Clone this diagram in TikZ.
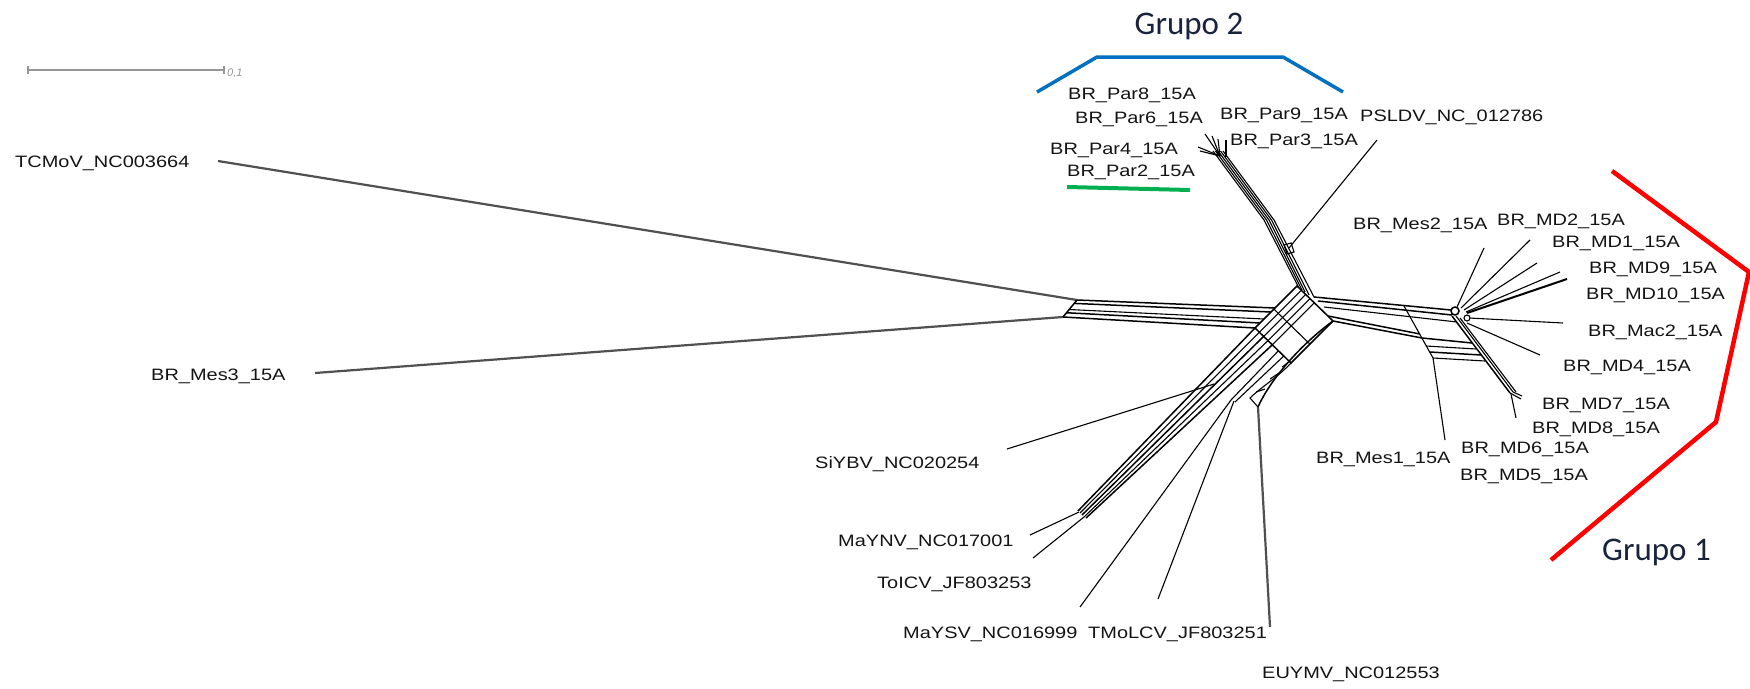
\documentclass[tikz,border=0pt]{standalone}
\usepackage{fontspec}
\setmainfont{Liberation Sans}
\newfontfamily\grupofont{Carlito}
\usepackage{graphicx}
\usetikzlibrary{calc}
\definecolor{grupoblue}{RGB}{0,112,192}
\definecolor{grupored}{RGB}{255,0,0}
\definecolor{grupogreen}{RGB}{0,176,80}
\definecolor{grupotext}{RGB}{25,35,60}
\definecolor{leafgray}{RGB}{80,80,80}
\definecolor{scalegray}{RGB}{150,150,150}
\newcommand{\taxon}[1]{\fontsize{16.5}{18}\selectfont\scalebox{1.21}[1]{#1}}
\begin{document}
\begin{tikzpicture}[x=1pt,y=-1pt,
  net/.style={line width=1.5pt, black},
  thinnet/.style={line width=1.1pt, black},
  longleaf/.style={line width=2.2pt, leafgray},
  lab/.style={anchor=base west, inner sep=0pt, text=black!92},
  grupo/.style={anchor=base, inner sep=0pt, text=grupotext, font=\grupofont\fontsize{33}{36}\selectfont},
]
\useasboundingbox (0,0) rectangle (1750,688);

% scale bar
\coordinate (sb1) at (28,70);
\coordinate (sb2) at (224,70);
\draw[scalegray, line width=1.2pt] (sb1) -- (sb2);
\draw[scalegray, line width=1.2pt] ([yshift=4pt]sb1) -- ([yshift=-4pt]sb1);
\draw[scalegray, line width=1.2pt] ([yshift=4pt]sb2) -- ([yshift=-4pt]sb2);
\node[anchor=west, inner sep=0pt, text=scalegray, font=\itshape\fontsize{11}{12}\selectfont] (sblab) at (227,73) {0,1};

% labels
\node[lab] (tcmov) at (15,167) {\taxon{TCMoV\_NC003664}};
\node[lab] (mes3) at (151,380) {\taxon{BR\_Mes3\_15A}};
\node[lab] (par8) at (1068,99) {\taxon{BR\_Par8\_15A}};
\node[lab] (par6) at (1075,123) {\taxon{BR\_Par6\_15A}};
\node[lab] (par9) at (1220,119) {\taxon{BR\_Par9\_15A}};
\node[lab] (psldv) at (1360,121) {\taxon{PSLDV\_NC\_012786}};
\node[lab] (par3) at (1230,145) {\taxon{BR\_Par3\_15A}};
\node[lab] (par4) at (1050,154) {\taxon{BR\_Par4\_15A}};
\node[lab] (par2) at (1067,176) {\taxon{BR\_Par2\_15A}};
\node[lab] (mes2) at (1353,229) {\taxon{BR\_Mes2\_15A}};
\node[lab] (md2) at (1497,225) {\taxon{BR\_MD2\_15A}};
\node[lab] (md1) at (1552,247) {\taxon{BR\_MD1\_15A}};
\node[lab] (md9) at (1589,273) {\taxon{BR\_MD9\_15A}};
\node[lab] (md10) at (1586,299) {\taxon{BR\_MD10\_15A}};
\node[lab] (mac2) at (1588,336) {\taxon{BR\_Mac2\_15A}};
\node[lab] (md4) at (1563,371) {\taxon{BR\_MD4\_15A}};
\node[lab] (md7) at (1542,409) {\taxon{BR\_MD7\_15A}};
\node[lab] (md8) at (1532,433) {\taxon{BR\_MD8\_15A}};
\node[lab] (md6) at (1461,453) {\taxon{BR\_MD6\_15A}};
\node[lab] (md5) at (1460,480) {\taxon{BR\_MD5\_15A}};
\node[lab] (mes1) at (1316,463) {\taxon{BR\_Mes1\_15A}};
\node[lab] (siybv) at (815,468) {\taxon{SiYBV\_NC020254}};
\node[lab] (maynv) at (838,546) {\taxon{MaYNV\_NC017001}};
\node[lab] (toicv) at (877,588) {\taxon{ToICV\_JF803253}};
\node[lab] (maysv) at (903,638) {\taxon{MaYSV\_NC016999}};
\node[lab] (tmolcv) at (1088,638) {\taxon{TMoLCV\_JF803251}};
\node[lab] (euymv) at (1262,678) {\taxon{EUYMV\_NC012553}};

% group labels
\node[grupo] (g2) at (1189,34) {Grupo 2};
\node[grupo, anchor=base west] (g1) at (1602,560) {Grupo 1};

% group marks
\draw[grupoblue, line width=3.5pt] (1037,92) -- (1097,57) -- (1283,57) -- (1343,92);
\draw[grupogreen, line width=4pt] (1067,187) -- (1190,190);
\draw[grupored, line width=4.5pt] (1612,171) -- (1749,272) -- (1716,422) -- (1551,560);

% key points of the network
\coordinate (tl) at (1077,300);
\coordinate (ml) at (1063,317);
\coordinate (Q1) at (1255,328);
\coordinate (Q2) at (1297,286);
\coordinate (Q3) at (1333,321);
\coordinate (Q4) at (1291,363);
\coordinate (hub) at (1455,311);
\coordinate (hub2) at (1467,318);
\coordinate (eu) at (1258,407);
\coordinate (ptip) at (1220,156);

% long leaves
\coordinate (tcmovend) at (218,161);
\coordinate (mes3end) at (315,373);
\coordinate (euend) at (1270,627);
\draw[longleaf] (tcmovend) -- (tl);
\draw[longleaf] (mes3end) -- (ml);
\draw[longleaf] (eu) -- (euend);

% left band
\draw[net] (tl) -- (ml);
\draw[net] (tl) -- (1275,308);
\draw[net] (1074.2,303.4) -- (1271,312);
\draw[thinnet] (1069,309.5) -- (1264,319);
\draw[net] (1066.5,312.75) -- (1260,323);
\draw[net] (ml) -- (Q1);

% central box
\draw[net] (Q1) -- (Q2) -- (Q3) -- (Q4) -- cycle;
\foreach \s in {0.12,0.24,0.36,0.48}
  \draw[thinnet] ($(Q1)!\s!(Q4)$) -- ($(Q2)!\s!(Q3)$);
\draw[thinnet] ($(Q2)!0.55!(Q1)$) -- ($(Q3)!0.55!(Q4)$);

% Par bundle
\foreach \k/\e in {0/{(1299,288)},1/{(1302,290)},2/{(1305,292)},3/{(1309,295)},4/{(1314,297)}}
  \draw[thinnet] ({1213+2.5*\k},151) -- ({1264+2.5*\k},220) -- \e;
\draw[thinnet] (ptip) -- (1198,147);
\draw[thinnet] (ptip) -- (1200,151);
\draw[thinnet] (ptip) -- (1205,134);
\draw[thinnet] (ptip) -- (1212,136);
\draw[thinnet] (ptip) -- (1218,139);
\draw[thinnet] (1226,140) -- (1226,157);
\draw[thinnet] (1284,245) -- (1291,243) -- (1294,252) -- (1287,254) -- cycle;
\coordinate (psldvend) at (1377,140);
\draw[thinnet] (psldvend) -- (1289,248);

% right band
\draw[net] (1314,297) -- (1451,310);
\draw[net] (1318,301) -- (1452,315);
\draw[thinnet] (1324,307) -- (1457,322);
\draw[net] (1328,316) -- (1420,334);
\draw[net] (Q3) -- (1422,338);
\draw[thinnet] (1404,306) -- (1433,358);
\draw[net] (1422,338) -- (1472,343);
\draw[thinnet] (1426,346) -- (1476,349);
\draw[net] (1430,352) -- (1481,355);
\draw[thinnet] (1433,358) -- (1485,361);

% MD7/MD8 bundle
\draw[net] (1452,316) -- (1510,393);
\draw[thinnet] (1456,316) -- (1513,392);
\draw[thinnet] (1460,318) -- (1516,392);
\coordinate (md7end) at (1521,399);
\coordinate (md8end) at (1516,418);
\draw[thinnet] (1510,393) -- (md7end);
\draw[thinnet] (1513,392) -- (1522,396);
\draw[thinnet] (1511,394) -- (md8end);

% hub and its leaves
\coordinate (mes2end) at (1484,248);
\coordinate (md2end) at (1530,240);
\coordinate (md1end) at (1537,263);
\coordinate (md9end) at (1560,272);
\coordinate (md10end) at (1567,279);
\coordinate (mac2end) at (1563,323);
\coordinate (md4end) at (1540,355);
\coordinate (mes1end) at (1445,440);
\draw[thinnet] (1457,307) -- (mes2end);
\draw[thinnet] (1461,308) -- (md2end);
\draw[thinnet] (1464,310) -- (md1end);
\draw[thinnet] (1466,312) -- (md9end);
\draw[line width=2pt] (1467,313) -- (md10end);
\draw[thinnet] (1469,318) -- (mac2end);
\draw[thinnet] (1467,323) -- (md4end);
\draw[thinnet] (1433,358) -- (mes1end);
\draw[net, fill=white] (hub) circle[radius=4pt];
\draw[thinnet, fill=white] (hub2) circle[radius=3pt];

% lower-left bundle
\draw[net] (Q1) -- (1078,511);
\draw[thinnet] ($(Q1)!0.12!(Q4)$) -- (1080,513);
\draw[net] ($(Q1)!0.24!(Q4)$) -- (1082,515);
\draw[thinnet] ($(Q1)!0.36!(Q4)$) -- (1084,517);
\draw[net] ($(Q1)!0.48!(Q4)$) -- (1086,518);
\coordinate (mnode) at (1231,400);
\draw[thinnet] ($(Q1)!0.65!(Q4)$) -- (mnode);
\draw[thinnet] ($(Q1)!0.8!(Q4)$) -- (1235,402);
\coordinate (siybvend) at (1007,449);
\coordinate (maynvend) at (1030,535);
\coordinate (toicvend) at (1033,558);
\coordinate (maysvend) at (1080,607);
\coordinate (tmolcvend) at (1158,599);
\draw[thinnet] (siybvend) -- (1214,384);
\draw[thinnet] (maynvend) -- (1079,512);
\draw[thinnet] (toicvend) -- (1084,517);
\draw[thinnet] (maysvend) -- (mnode);
\draw[thinnet] (tmolcvend) -- (1234,401);

% EUYMV arc
\draw[net] (Q3) .. controls (1300,345) and (1270,380) .. (eu);
\draw[thinnet] (Q4) .. controls (1278,377) and (1260,388) .. (1250,398) -- (eu);
\draw[thinnet] (1282,367) -- (1289,362);
\draw[thinnet] (1270,379) -- (1279,373);
\draw[thinnet] (1256,392) -- (1265,389);
\end{tikzpicture}
\end{document}
